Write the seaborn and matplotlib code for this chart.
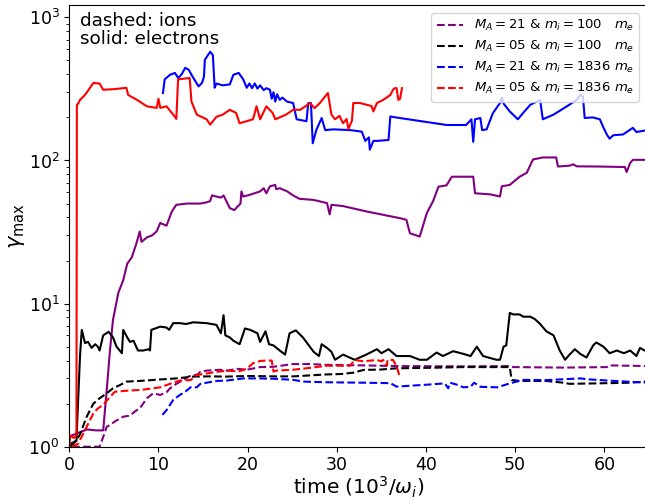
import matplotlib
matplotlib.use("Agg")
import matplotlib.pyplot as plt
import seaborn as sns
import pandas as pd

# (time [10^3/omega_i], gamma_max) for each run; solid = electrons, dashed = ions
elec_21_100 = [(0.3, 1.2), (1.0, 1.25), (2.0, 1.32), (3.0, 1.3), (3.8, 1.3), (4.2, 2.5), (4.56, 4.7),
               (4.9, 7.7), (5.5, 11.9), (6.05, 14.6), (6.5, 19), (7.0, 21), (7.5, 26), (7.9, 31.9),
               (8.1, 27), (8.7, 29), (9.3, 30), (9.8, 32), (10.2, 36.6), (10.9, 35), (11.5, 44),
               (12.0, 49), (13.2, 50), (14.7, 50), (15.4, 51), (15.8, 52), (16.0, 57), (17.0, 55),
               (17.3, 57), (18.0, 46.5), (18.5, 45), (19.2, 50), (19.3, 60.8), (19.5, 56), (20.0, 57),
               (20.4, 58), (21.4, 60.8), (21.8, 64), (22.1, 59), (22.5, 66), (23.1, 67.5), (23.2, 63),
               (23.6, 64), (24.4, 61), (25.1, 57), (25.8, 54), (27.4, 53), (28.9, 50.4), (29.2, 42),
               (29.4, 49), (30.7, 48), (33.35, 44), (37.1, 39.5), (37.8, 38.5), (38.2, 31), (39.3, 29.4),
               (40.1, 43), (40.8, 52), (41.4, 65.6), (42.3, 67), (42.9, 77), (45.3, 77), (45.5, 59),
               (47.2, 58), (48.3, 56), (48.5, 66), (49.4, 67.5), (50.5, 77), (51.3, 82), (52.0, 101.6),
               (53.1, 105), (54.6, 105), (54.8, 90.7), (56.1, 92), (56.5, 94), (56.9, 91), (59.5, 90.7),
               (62.3, 90), (62.5, 83), (62.9, 96), (63.2, 101), (64.8, 101)]

elec_05_100 = [(0.0, 1.0), (0.27, 1.06), (0.8, 1.1), (1.2, 4.3), (1.4, 6.55), (1.76, 5.3), (2.1, 5.4),
               (2.5, 4.9), (2.9, 5.2), (3.2, 5.0), (3.4, 4.7), (3.8, 6.0), (4.4, 6.35), (4.9, 5.8),
               (5.3, 5.0), (5.9, 4.5), (6.05, 6.55), (6.5, 5.8), (6.8, 5.4), (7.2, 5.5), (7.7, 4.7),
               (8.3, 4.7), (8.9, 4.8), (9.05, 4.7), (9.2, 6.55), (10.2, 6.9), (10.9, 6.8), (11.2, 6.55),
               (11.65, 7.3), (12.4, 7.3), (13.1, 7.2), (13.9, 7.4), (15.4, 7.3), (16.5, 7.1), (17.0, 6.2),
               (17.3, 8.3), (17.5, 6.0), (18.0, 5.8), (18.4, 5.5), (19.1, 5.2), (19.7, 6.7), (20.3, 6.55),
               (21.1, 6.2), (21.4, 5.4), (22.0, 6.4), (22.4, 5.2), (22.9, 5.1), (23.6, 4.7), (24.2, 4.4),
               (24.7, 6.2), (25.4, 6.5), (26.2, 5.8), (27.4, 4.6), (28.0, 4.3), (28.3, 5.2), (28.9, 4.9),
               (29.4, 4.6), (29.8, 4.05), (30.7, 4.4), (32.0, 4.05), (33.3, 4.4), (34.5, 4.8), (35.0, 4.5),
               (35.8, 4.8), (36.7, 4.3), (38.2, 4.3), (39.3, 4.05), (40.1, 4.05), (41.2, 4.55), (41.9, 4.3),
               (43.05, 4.65), (44.2, 4.45), (45.0, 4.3), (45.7, 5.0), (46.4, 4.3), (47.9, 4.05), (48.3, 4.05),
               (48.7, 5.0), (49.0, 5.1), (49.4, 8.6), (49.8, 8.4), (50.5, 8.4), (50.9, 8.1), (51.7, 8.1),
               (52.2, 7.8), (52.8, 7.2), (53.5, 6.4), (54.3, 6.0), (55.0, 4.7), (55.6, 4.05), (56.1, 4.4),
               (56.7, 4.8), (57.3, 4.45), (58.0, 4.2), (58.75, 5.1), (59.1, 5.35), (59.9, 5.0), (60.6, 4.5),
               (61.4, 4.7), (62.2, 4.5), (62.9, 4.7), (63.6, 4.3), (64.0, 4.9), (64.8, 4.6)]

elec_21_1836 = [(10.5, 296), (10.7, 369), (11.3, 397), (11.85, 409), (12.2, 377), (12.6, 400), (13.0, 444),
                (13.4, 430), (13.7, 397), (14.5, 329), (14.9, 350), (15.1, 385), (15.2, 505), (15.8, 575),
                (16.1, 545), (16.3, 322), (16.5, 345), (17.2, 335), (18.0, 340), (18.4, 397), (19.0, 409),
                (19.5, 369), (19.9, 322), (20.2, 345), (20.5, 320), (20.8, 345), (21.1, 318), (21.4, 335),
                (21.8, 310), (22.1, 320), (22.5, 312), (22.7, 270), (22.9, 300), (23.1, 258), (23.3, 290),
                (23.6, 265), (23.9, 275), (24.4, 258), (25.1, 252), (25.5, 194), (26.6, 188), (26.8, 252),
                (27.1, 252), (27.3, 132), (27.7, 163), (28.3, 198), (28.7, 163), (29.6, 165), (31.5, 163),
                (32.8, 159), (33.2, 137), (33.6, 145), (33.7, 119), (34.1, 137), (34.5, 137), (35.8, 139),
                (36.0, 203), (36.6, 200), (42.3, 177), (44.5, 177), (45.1, 194), (45.3, 135), (45.5, 194),
                (46.1, 198), (46.3, 163), (46.8, 165), (47.5, 214), (48.3, 252), (48.5, 275), (48.7, 250),
                (49.4, 220), (50.3, 194), (50.9, 215), (51.7, 245), (52.8, 265), (53.1, 194), (54.3, 209),
                (55.8, 239), (56.9, 265), (57.3, 287), (57.6, 280), (57.8, 198), (58.7, 200), (59.5, 194),
                (59.9, 170), (60.3, 151), (60.6, 142), (61.0, 150), (62.1, 152), (63.2, 169), (63.6, 158),
                (64.8, 163)]

elec_05_1836 = [(0.0, 1.0), (0.1, 1.2), (0.5, 1.15), (0.8, 1.2), (0.85, 245), (1.0, 250), (1.2, 265),
                (1.76, 287), (2.7, 348), (3.4, 345), (3.8, 312), (5.0, 315), (6.4, 322), (6.6, 287),
                (7.6, 265), (8.7, 239), (9.8, 233), (10.0, 270), (10.2, 233), (10.9, 239), (11.85, 202),
                (12.0, 195), (12.2, 369), (13.5, 377), (13.7, 258), (14.3, 209), (15.4, 194), (15.8, 178),
                (16.5, 202), (17.2, 209), (18.0, 226), (18.7, 215), (19.1, 182), (20.6, 194), (21.0, 239),
                (21.4, 194), (22.1, 239), (22.8, 215), (23.1, 194), (24.3, 209), (25.1, 226), (25.9, 226),
                (27.0, 252), (27.5, 232), (28.1, 252), (29.0, 296), (29.4, 209), (29.8, 194), (30.3, 205),
                (30.7, 182), (31.1, 195), (31.3, 166), (31.7, 190), (31.85, 252), (32.6, 252), (33.35, 245),
                (33.9, 240), (34.1, 220), (34.5, 252), (35.2, 265), (36.0, 287), (36.3, 312), (36.5, 320),
                (36.7, 320), (36.9, 265), (37.1, 270), (37.3, 320)]

ion_21_100 = [(0.3, 1.0), (3.4, 1.0), (3.8, 1.17), (4.2, 1.38), (4.6, 1.42), (5.1, 1.5), (6.05, 1.62),
              (6.8, 1.65), (7.4, 1.77), (7.9, 1.85), (8.7, 2.18), (9.4, 2.36), (10.2, 2.3), (10.9, 2.4),
              (11.3, 2.56), (12.0, 2.75), (12.8, 2.93), (13.4, 3.1), (14.4, 3.2), (14.7, 3.34), (15.4, 3.4),
              (16.9, 3.45), (17.7, 3.4), (18.8, 3.5), (19.9, 3.45), (21.4, 3.6), (22.9, 3.62), (25.1, 3.78),
              (26.9, 3.78), (28.9, 3.73), (33.0, 3.7), (36.7, 3.66), (44.2, 3.64), (49.4, 3.66), (49.8, 3.6),
              (55.4, 3.57), (60.3, 3.6), (60.5, 3.7), (64.8, 3.66)]

ion_05_100 = [(0.2, 1.0), (0.8, 1.11), (1.2, 1.22), (1.95, 1.62), (2.7, 2.0), (3.4, 2.18), (4.2, 2.36),
              (4.9, 2.56), (5.7, 2.7), (6.4, 2.85), (7.9, 2.88), (10.2, 2.95), (12.0, 3.0), (13.9, 3.09),
              (15.8, 3.1), (17.7, 3.09), (19.9, 3.12), (23.2, 3.1), (25.1, 3.1), (28.9, 3.2), (30.5, 3.22),
              (31.85, 3.29), (33.0, 3.44), (34.9, 3.46), (36.7, 3.53), (40.4, 3.56), (44.2, 3.6), (49.4, 3.6),
              (49.6, 2.93), (50.5, 2.88), (53.5, 2.88), (55.4, 2.8), (56.1, 2.75), (59.1, 2.77), (62.9, 2.8),
              (64.8, 2.86)]

ion_21_1836 = [(10.45, 1.67), (10.9, 1.8), (11.65, 2.12), (12.4, 2.3), (13.0, 2.42), (13.6, 2.6), (14.3, 2.6),
               (14.7, 2.75), (15.4, 2.8), (16.5, 2.88), (17.7, 2.9), (19.5, 3.0), (21.4, 3.0), (23.2, 2.98),
               (25.1, 2.93), (26.3, 2.85), (28.9, 2.82), (33.0, 2.8), (36.0, 2.78), (36.7, 2.63), (40.4, 2.72),
               (42.1, 2.77), (42.5, 2.56), (42.7, 2.8), (43.4, 2.72), (44.2, 2.6), (45.0, 2.62), (45.4, 2.8),
               (46.1, 2.62), (48.0, 2.6), (49.4, 2.77), (50.9, 2.93), (53.5, 2.92), (57.3, 3.0), (58.4, 2.95),
               (60.3, 2.9), (64.8, 2.8)]

ion_05_1836 = [(0.3, 1.0), (1.0, 1.05), (1.95, 1.38), (2.7, 1.71), (3.2, 1.85), (3.8, 1.96), (4.2, 2.1),
               (5.1, 2.42), (6.4, 2.46), (8.2, 2.5), (10.2, 2.6), (11.3, 2.75), (12.4, 2.9), (13.6, 2.92),
               (14.3, 3.17), (15.4, 3.25), (16.5, 3.33), (17.7, 3.4), (19.0, 3.36), (19.9, 3.5), (20.6, 3.83),
               (21.4, 3.97), (22.1, 4.0), (22.7, 4.0), (22.9, 3.35), (23.2, 3.4), (25.1, 3.45), (26.9, 3.55),
               (28.9, 3.68), (31.5, 3.68), (32.0, 4.04), (33.0, 3.95), (34.5, 4.04), (35.0, 3.95), (35.2, 4.04),
               (35.6, 3.68), (35.7, 4.04), (36.3, 4.04), (36.7, 3.66), (37.0, 3.17)]

runs = [
    ("purple", r"$M_A=21$ & $m_i=100$   $m_e$", elec_21_100, ion_21_100),
    ("black", r"$M_A=05$ & $m_i=100$   $m_e$", elec_05_100, ion_05_100),
    ("blue", r"$M_A=21$ & $m_i=1836$ $m_e$", elec_21_1836, ion_21_1836),
    ("red", r"$M_A=05$ & $m_i=1836$ $m_e$", elec_05_1836, ion_05_1836),
]

fig = plt.figure(figsize=(6.45, 4.97), dpi=100)
x_left, x_right = 69.3 / 645, 647.0 / 645
ax = fig.add_axes([x_left, 50.3 / 497, x_right - x_left, (446.7 - 5.0) / 497])

for color, label, elec, ion in runs:
    de = pd.DataFrame(elec, columns=["t", "g"])
    di = pd.DataFrame(ion, columns=["t", "g"])
    sns.lineplot(data=de, x="t", y="g", color=color, lw=1.5, estimator=None, sort=False,
                 ax=ax, legend=False)
    sns.lineplot(data=di, x="t", y="g", color=color, lw=1.5, ls="--", estimator=None, sort=False,
                 ax=ax, label=label)

ax.set_yscale("log")
ax.set_ylim(1, 1220)
ax.set_xlim(0, (647.0 - 69.3) / 8.917)
ax.set_xticks([0, 10, 20, 30, 40, 50, 60])
ax.tick_params(axis="both", which="major", labelsize=12.5)
ax.set_xlabel(r"time ($10^3/\omega_i$)", fontsize=14.5, labelpad=0)
ax.set_ylabel(r"$\gamma_{\max}$", fontsize=15, labelpad=1)
ax.text(0.018, 0.985, "dashed: ions\nsolid: electrons", transform=ax.transAxes,
        ha="left", va="top", fontsize=13.2, linespacing=1.05)
ax.legend(loc="upper right", fontsize=9.5, borderaxespad=0.6, labelspacing=0.45)

fig.savefig("out.png", dpi=100)
